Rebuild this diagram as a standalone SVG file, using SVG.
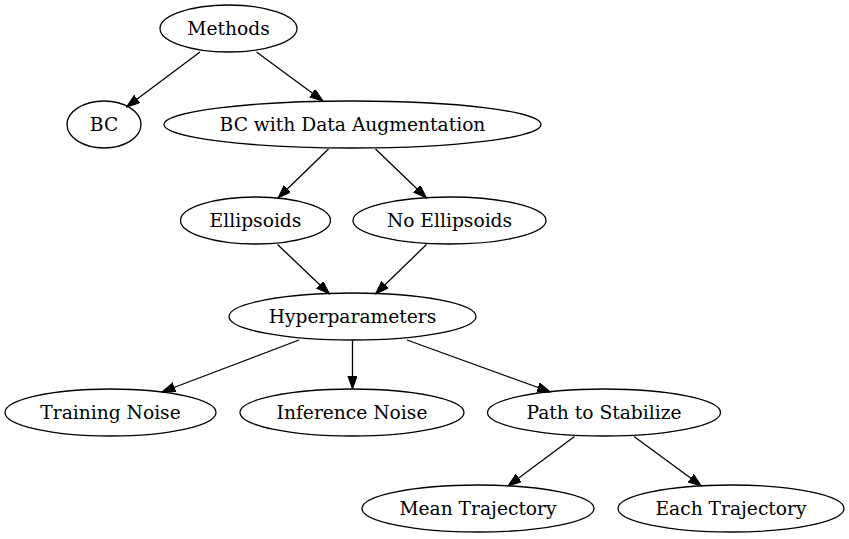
<svg xmlns="http://www.w3.org/2000/svg" width="849" height="539" viewBox="0 0 849 539">
<style>
.n ellipse{fill:none;stroke:#000;stroke-width:1.3}
.n text{font-family:"DejaVu Serif","Liberation Serif",serif;font-size:18.67px;text-anchor:middle;fill:#000}
#edges line{stroke:#000;stroke-width:1.3;marker-end:url(#ah)}
</style>
<defs>
<marker id="ah" markerUnits="userSpaceOnUse" markerWidth="14" markerHeight="10" refX="13.3" refY="4.7" orient="auto">
<path d="M0,0 L13.3,4.7 L0,9.4 Z" fill="#000" stroke="#000" stroke-width="1"/>
</marker>
</defs>
<rect width="849" height="539" fill="#fff"/>
<g id="edges">
<line x1="200" y1="52" x2="126.5" y2="107"/>
<line x1="256.5" y1="52" x2="323" y2="101"/>
<line x1="328.5" y1="149" x2="278" y2="198"/>
<line x1="375.5" y1="149" x2="426.5" y2="198"/>
<line x1="277.5" y1="244.5" x2="329.5" y2="294"/>
<line x1="426.5" y1="244.5" x2="375.5" y2="294"/>
<line x1="299" y1="340" x2="162" y2="392"/>
<line x1="352.5" y1="340.5" x2="352.5" y2="389"/>
<line x1="407" y1="340" x2="550.5" y2="392"/>
<line x1="574.5" y1="436.5" x2="508" y2="486"/>
<line x1="634" y1="436.5" x2="701.5" y2="486"/>
</g>
<g id="methods" class="n"><ellipse cx="228.5" cy="28.5" rx="68.5" ry="23.5"/><text x="228.5" y="34.5">Methods</text></g>
<g id="bc" class="n"><ellipse cx="104" cy="124.5" rx="37" ry="23.5"/><text x="104" y="130.5">BC</text></g>
<g id="bcda" class="n"><ellipse cx="352.5" cy="124.5" rx="188.5" ry="23.5"/><text x="352.5" y="130.5">BC with Data Augmentation</text></g>
<g id="ellipsoids" class="n"><ellipse cx="255.5" cy="220.5" rx="75" ry="23.5"/><text x="255.5" y="226.5">Ellipsoids</text></g>
<g id="noellipsoids" class="n"><ellipse cx="449.5" cy="220.5" rx="96.5" ry="23.5"/><text x="449.5" y="226.5">No Ellipsoids</text></g>
<g id="hyper" class="n"><ellipse cx="352.5" cy="316.5" rx="123.5" ry="23.5"/><text x="352.5" y="322.5">Hyperparameters</text></g>
<g id="training" class="n"><ellipse cx="110.5" cy="412.5" rx="105.5" ry="23.5"/><text x="110.5" y="418.5">Training Noise</text></g>
<g id="inference" class="n"><ellipse cx="352" cy="412.5" rx="112" ry="23.5"/><text x="352" y="418.5">Inference Noise</text></g>
<g id="path" class="n"><ellipse cx="604" cy="412.5" rx="116.5" ry="23.5"/><text x="604" y="418.5">Path to Stabilize</text></g>
<g id="mean" class="n"><ellipse cx="478" cy="508.5" rx="116" ry="23.5"/><text x="478" y="514.5">Mean Trajectory</text></g>
<g id="each" class="n"><ellipse cx="731" cy="508.5" rx="113" ry="23.5"/><text x="731" y="514.5">Each Trajectory</text></g>
</svg>
